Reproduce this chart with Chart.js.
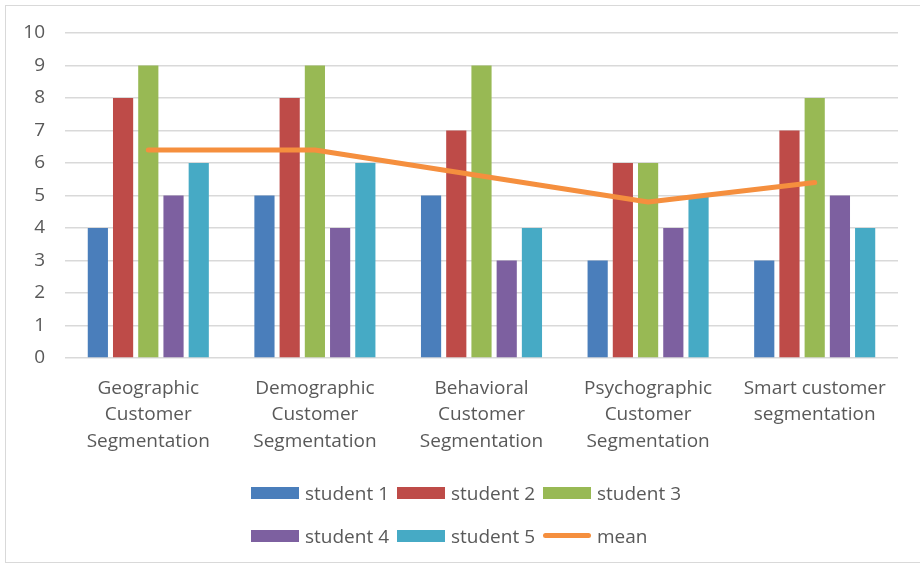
<!DOCTYPE html>
<html>
<head>
<meta charset="utf-8">
<script src="https://cdn.jsdelivr.net/npm/chart.js@4"></script>
<style>
	body{margin:0;padding:0;background:#fff;}
	#wrap{position:relative;width:920px;height:565px;overflow:hidden;}
	#frame{position:absolute;left:5px;top:5px;width:930px;height:556px;border:1.5px solid #d9d9d9;}
	#chart{position:absolute;left:0;top:0;}
	#legend{position:absolute;left:251px;top:471px;font-family:"Open Sans",sans-serif;font-size:19px;color:#595959;}
	#legend .row{display:flex;height:43px;align-items:center;}
	#legend .item{display:flex;align-items:center;margin-right:8px;}
	#legend .sw{display:inline-block;width:48px;height:12px;margin-right:6px;}
	#legend .ln{display:inline-block;width:48px;height:5px;border-radius:3px;margin-right:6px;}
</style>
</head>
<body>
<div id="wrap">
	<div id="frame"></div>
	<canvas id="chart" width="920" height="565"></canvas>
	<div id="legend"></div>
</div>
<script>
const categories = [
	["Geographic", "Customer", "Segmentation"],
	["Demographic", "Customer", "Segmentation"],
	["Behavioral", "Customer", "Segmentation"],
	["Psychographic", "Customer", "Segmentation"],
	["Smart customer", "segmentation"]
]
const student1 = [4, 5, 5, 3, 3]
const student2 = [8, 8, 7, 6, 7]
const student3 = [9, 9, 9, 6, 8]
const student4 = [5, 4, 3, 4, 5]
const student5 = [6, 6, 4, 5, 4]
const mean = [6.4, 6.4, 5.6, 4.8, 5.4]
const yTicks = [0, 1, 2, 3, 4, 5, 6, 7, 8, 9, 10]

const seriesNames = ["student 1", "student 2", "student 3", "student 4", "student 5", "mean"]
const seriesColors = ["#4a7ebb", "#be4b48", "#98b954", "#7d60a0", "#46aac5", "#f58f3e"]

const textColor = "#595959"
const fontFamily = "'Open Sans', sans-serif"

const barSeries = [student1, student2, student3, student4, student5]
const datasets = barSeries.map((values, i) => {
	return {
		type: "bar",
		label: seriesNames[i],
		data: values,
		backgroundColor: seriesColors[i],
		borderWidth: 0,
		categoryPercentage: 0.757,
		barPercentage: 0.8,
		order: 1
	}
})
datasets.push({
	type: "line",
	label: seriesNames[5],
	data: mean,
	borderColor: seriesColors[5],
	backgroundColor: seriesColors[5],
	borderWidth: 5,
	borderCapStyle: "round",
	borderJoinStyle: "round",
	pointRadius: 0,
	tension: 0,
	order: 0
})

const chart = new Chart("chart", {
	type: "bar",
	data: {
		labels: categories,
		datasets: datasets
	},
	options: {
		responsive: false,
		animation: false,
		devicePixelRatio: 1,
		layout: {
			padding: {top: 33, right: 22, bottom: 107, left: 0}
		},
		plugins: {
			legend: {display: false},
			tooltip: {enabled: false}
		},
		scales: {
			x: {
				grid: {display: false},
				border: {display: false},
				ticks: {
					color: textColor,
					padding: 9,
					maxRotation: 0,
					autoSkip: false,
					font: {family: fontFamily, size: 19, lineHeight: 1.4}
				},
				afterFit: function(scale){
					scale.height = 100
				}
			},
			y: {
				min: 0,
				max: 10,
				afterBuildTicks: function(scale){
					scale.ticks = yTicks.map(v => ({value: v}))
				},
				grid: {color: "#d9d9d9", lineWidth: 1.5, drawTicks: false},
				border: {display: false},
				ticks: {
					color: textColor,
					padding: 20,
					font: {family: fontFamily, size: 19}
				},
				afterFit: function(scale){
					scale.width = 65
				}
			}
		}
	}
})

//legend in html, 3 per row, rows left aligned
const legendDiv = document.getElementById("legend")
const perRow = 3
let row = null
seriesNames.forEach((name, i) => {
	if(i % perRow == 0){
		row = document.createElement("div")
		row.className = "row"
		legendDiv.appendChild(row)
	}
	const item = document.createElement("div")
	item.className = "item"
	const sw = document.createElement("span")
	sw.className = (i == 5) ? "ln" : "sw"
	sw.style.background = seriesColors[i]
	const txt = document.createElement("span")
	txt.textContent = name
	item.appendChild(sw)
	item.appendChild(txt)
	row.appendChild(item)
})
</script>
</body>
</html>
